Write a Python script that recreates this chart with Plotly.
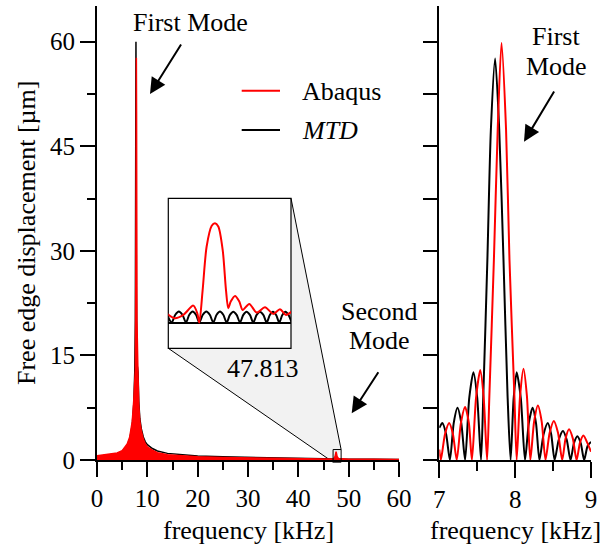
import plotly.graph_objects as go

# ---------------- data ----------------
# Full spectrum (0-60 kHz): upper envelope of the free-edge displacement
full_freq = [0, 2, 4, 5, 6, 6.5, 7.0, 7.3, 7.5, 7.62, 7.70, 7.74, 7.78, 7.82, 7.86,
             7.94, 8.05, 8.15, 8.3, 8.5, 8.8, 9.2, 9.6, 10, 11, 12, 14, 17, 20, 25,
             30, 35, 40, 45, 47.0, 47.3, 47.5, 47.7, 48.0, 50, 55, 60]
abaqus_full = [0.6, 0.75, 1.0, 1.35, 2.3, 3.3, 5.5, 8.5, 12.9, 13.0, 25, 35, 50, 57.7, 50,
               20, 13.1, 12.0, 8.0, 5.6, 4.2, 3.0, 2.3, 1.9, 1.4, 1.05, 0.75, 0.55, 0.45, 0.35,
               0.28, 0.22, 0.18, 0.15, 0.15, 0.5, 1.2, 0.5, 0.2, 0.12, 0.1, 0.08]
mtd_full = [0.5, 0.7, 0.9, 1.2, 2.1, 3.0, 5.0, 8.0, 12.6, 20, 45, 60, 45, 25, 14,
            13.3, 13.3, 12.6, 8.4, 6.0, 4.5, 3.3, 2.6, 2.2, 1.65, 1.3, 0.95, 0.72, 0.58, 0.45,
            0.36, 0.28, 0.22, 0.18, 0.16, 0.15, 0.15, 0.15, 0.14, 0.12, 0.1, 0.08]

# First mode detail (7-9 kHz)
abaqus_f = [7.00, 7.02, 7.075, 7.13, 7.18, 7.23, 7.285, 7.34, 7.39, 7.43, 7.485, 7.54, 7.585,
            7.63, 7.66, 7.72, 7.77, 7.82, 7.88, 7.925, 7.99, 8.02, 8.065, 8.11, 8.155, 8.20,
            8.25, 8.30, 8.35, 8.40, 8.455, 8.51, 8.565, 8.62, 8.665, 8.71, 8.76, 8.81, 8.855,
            8.90, 8.95, 9.0]
abaqus_u = [1.5, 0, 3.7, 5.3, 3.7, 0, 5.3, 7.6, 5.3, 0, 9.0, 12.9, 9.0,
            0, 9.2, 28.8, 47.4, 59.8, 47.4, 28.8, 9.2, 0, 9.2, 13.1, 9.2, 0,
            5.5, 7.8, 5.5, 0, 3.9, 5.6, 3.9, 0, 3.1, 4.4, 3.1, 0, 2.5,
            3.5, 2.5, 1.2]
mtd_f = [7.00, 7.04, 7.09, 7.14, 7.19, 7.24, 7.29, 7.34, 7.395, 7.45, 7.50, 7.55, 7.58,
         7.634, 7.68, 7.736, 7.79, 7.846, 7.90, 7.94, 7.98, 8.02, 8.075, 8.13, 8.18, 8.23,
         8.275, 8.32, 8.375, 8.43, 8.475, 8.52, 8.575, 8.63, 8.68, 8.73, 8.775, 8.82, 8.865,
         8.91, 8.955, 9.0]
mtd_u = [4.6, 5.3, 3.7, 0, 5.3, 7.5, 5.3, 0, 8.9, 12.6, 8.9, 0, 9.2,
         28.8, 47.4, 57.6, 47.4, 28.8, 9.2, 0, 8.8, 12.6, 8.8, 0, 5.3, 7.5,
         5.3, 0, 3.7, 5.3, 3.7, 0, 2.9, 4.15, 2.9, 0, 2.4, 3.4, 2.4,
         0, 2.0, 2.6]

# Second mode close-up (around 47.8 kHz)
ins_abaqus_f = [46.887, 46.987, 47.096, 47.226, 47.278, 47.304, 47.348, 47.40, 47.466, 47.509,
                47.552, 47.609, 47.652, 47.682, 47.714, 47.77, 47.826, 47.87, 47.956, 48.053,
                48.161, 48.269, 48.356, 48.435, 48.509]
ins_abaqus_u = [0.105, 0.053, 0.093, 0.205, 0.113, 0.0, 0.395, 0.918, 1.168, 1.20,
                1.16, 0.878, 0.395, 0.174, 0.254, 0.322, 0.254, 0.153, 0.226, 0.121,
                0.186, 0.105, 0.162, 0.093, 0.133]
ins_mtd_f = [46.887, 46.944, 46.991, 47.038, 47.084, 47.131, 47.174, 47.218, 47.261, 47.304,
             47.35, 47.396, 47.441, 47.487, 47.53, 47.574, 47.617, 47.661, 47.704, 47.748,
             47.791, 47.835, 47.878, 47.92, 47.964, 48.008, 48.052, 48.095, 48.139, 48.183,
             48.224, 48.265, 48.306, 48.347, 48.387, 48.428, 48.468, 48.509]
ins_mtd_u = [0.09, 0, 0.095, 0.133, 0.095, 0, 0.095, 0.133, 0.095, 0,
             0.095, 0.134, 0.095, 0, 0.095, 0.133, 0.095, 0, 0.094, 0.132,
             0.094, 0, 0.094, 0.132, 0.094, 0, 0.093, 0.131, 0.093, 0,
             0.092, 0.130, 0.092, 0, 0.092, 0.130, 0.092, 0]

x_ticks_full = [0, 10, 20, 30, 40, 50, 60]
x_minor_full = [5, 15, 25, 35, 45, 55]
x_ticks_detail = [7, 8, 9]
x_minor_detail = [7.5, 8.5]
y_ticks = [0, 15, 30, 45, 60]
y_minor = [7.5, 22.5, 37.5, 52.5]
y_ticks_detail = [0, 7.5, 15, 22.5, 30, 37.5, 45, 52.5, 60]

zoom_freq = [46.9, 48.5]
zoom_disp = [-0.31, 1.50]
zoom_label = "47.813"

# ---------------- geometry ----------------
W, H = 611, 553
ML, MR, MT, MB = 97, 20, 6, 93
PW, PH = W - ML - MR, H - MT - MB
Y_MAX = 65.12
FONT = "Liberation Serif"
RED, BLACK = "#ff0000", "#000000"


def px(xp):
    return (xp - ML) / PW


def py(yp):
    return (H - MB - yp) / PH


dom_full = [0, px(399)]
dom_detail = [px(439.3), 1]
ins_x = [px(168.3), px(291)]
ins_y = [py(348.3), py(198.3)]


def full_to_paper(f, v):
    return (dom_full[0] + f / 60 * (dom_full[1] - dom_full[0]), v / Y_MAX)


fig = go.Figure()

# full spectrum
fig.add_trace(go.Scatter(x=full_freq, y=mtd_full, mode="lines",
                         line=dict(color=BLACK, width=1.5), xaxis="x", yaxis="y"))
fig.add_trace(go.Scatter(x=full_freq, y=abaqus_full, mode="lines", fill="tozeroy",
                         fillcolor=RED, line=dict(color=RED, width=1.5), xaxis="x", yaxis="y"))
# first mode detail
fig.add_trace(go.Scatter(x=mtd_f, y=mtd_u, mode="lines",
                         line=dict(color=BLACK, width=2, shape="spline", smoothing=0.7),
                         xaxis="x2", yaxis="y2"))
fig.add_trace(go.Scatter(x=abaqus_f, y=abaqus_u, mode="lines",
                         line=dict(color=RED, width=2, shape="spline", smoothing=0.7),
                         xaxis="x2", yaxis="y2"))
# second mode close-up
fig.add_trace(go.Scatter(x=ins_mtd_f, y=ins_mtd_u, mode="lines",
                         line=dict(color=BLACK, width=2, shape="spline", smoothing=0.7),
                         xaxis="x3", yaxis="y3"))
fig.add_trace(go.Scatter(x=ins_abaqus_f, y=ins_abaqus_u, mode="lines",
                         line=dict(color=RED, width=2, shape="spline", smoothing=0.8),
                         xaxis="x3", yaxis="y3"))

tickfont = dict(family=FONT, size=25, color=BLACK)
common = dict(showline=True, linewidth=2, linecolor=BLACK, ticks="outside",
              tickwidth=2, tickcolor=BLACK, showgrid=False, zeroline=False,
              tickfont=tickfont)

fig.update_layout(
    width=W, height=H,
    margin=dict(l=ML, r=MR, t=MT, b=MB, pad=0),
    paper_bgcolor="white", plot_bgcolor="rgba(0,0,0,0)",
    showlegend=False,
    font=dict(family=FONT, size=26, color=BLACK),
    xaxis=dict(domain=dom_full, range=[0, 60], anchor="y", tickvals=x_ticks_full,
               ticklen=15,
               minor=dict(tickvals=x_minor_full, ticks="outside", ticklen=8,
                          tickwidth=2, tickcolor=BLACK), **common),
    yaxis=dict(domain=[0, 1], range=[0, Y_MAX], anchor="x", tickvals=y_ticks,
               ticklen=15,
               minor=dict(tickvals=y_minor, ticks="outside", ticklen=8,
                          tickwidth=2, tickcolor=BLACK), **common),
    xaxis2=dict(domain=dom_detail, range=[7, 9], anchor="y2", tickvals=x_ticks_detail,
                ticklen=16,
                minor=dict(tickvals=x_minor_detail, ticks="outside", ticklen=9,
                           tickwidth=2, tickcolor=BLACK), **common),
    yaxis2=dict(domain=[0, 1], range=[0, Y_MAX], anchor="x2", tickvals=y_ticks_detail,
                ticklen=14, showticklabels=False, **common),
    xaxis3=dict(domain=ins_x, range=zoom_freq, anchor="y3", showline=False,
                showticklabels=False, ticks="", showgrid=False, zeroline=False),
    yaxis3=dict(domain=ins_y, range=zoom_disp, anchor="x3", showline=False,
                showticklabels=False, ticks="", showgrid=False, zeroline=True,
                zerolinecolor=BLACK, zerolinewidth=2),
)

# zoom connector and close-up frame
sb_bl = full_to_paper(zoom_freq[0], zoom_disp[0])
sb_tr = full_to_paper(zoom_freq[1], zoom_disp[1])
ib_bl = (ins_x[0], ins_y[0])
ib_tr = (ins_x[1], ins_y[1])
shapes = [
    dict(type="path", xref="paper", yref="paper", layer="below",
         path=f"M {ib_bl[0]} {ib_bl[1]} L {ib_tr[0]} {ib_tr[1]} L {sb_tr[0]} {sb_tr[1]} "
              f"L {sb_bl[0]} {sb_bl[1]} Z",
         fillcolor="#f2f2f2", line=dict(width=0)),
    dict(type="rect", xref="paper", yref="paper", layer="below",
         x0=ins_x[0], x1=ins_x[1], y0=ins_y[0], y1=ins_y[1],
         fillcolor="white", line=dict(color=BLACK, width=1.2)),
    dict(type="line", xref="paper", yref="paper", layer="below",
         x0=ib_bl[0], y0=ib_bl[1], x1=sb_bl[0], y1=sb_bl[1], line=dict(color=BLACK, width=1)),
    dict(type="line", xref="paper", yref="paper", layer="below",
         x0=ib_tr[0], y0=ib_tr[1], x1=sb_tr[0], y1=sb_tr[1], line=dict(color=BLACK, width=1)),
    dict(type="rect", xref="paper", yref="paper", layer="above",
         x0=sb_bl[0], x1=sb_tr[0], y0=sb_bl[1], y1=sb_tr[1],
         line=dict(color=BLACK, width=1)),
    # legend samples
    dict(type="line", xref="paper", yref="paper", x0=px(241.7), x1=px(280),
         y0=py(90.7), y1=py(90.7), line=dict(color=RED, width=2)),
    dict(type="line", xref="paper", yref="paper", x0=px(241.7), x1=px(280),
         y0=py(130), y1=py(130), line=dict(color=BLACK, width=2)),
]
fig.update_layout(shapes=shapes)


def text(s, x, y, xanchor="center", size=26):
    fig.add_annotation(text=s, x=px(x), y=py(y), xref="paper", yref="paper",
                       xanchor=xanchor, yanchor="middle", showarrow=False,
                       font=dict(family=FONT, size=size, color=BLACK))


def arrow(x0, y0, x1, y1):
    fig.add_annotation(x=px(x1), y=py(y1), xref="paper", yref="paper",
                       ax=x0 - x1, ay=y0 - y1, axref="pixel", ayref="pixel",
                       showarrow=True, arrowhead=2, arrowsize=1.6, arrowwidth=2,
                       arrowcolor=BLACK, standoff=0, text="")


text("Abaqus", 300, 91, xanchor="left")
text("<i>MTD</i>", 300, 130, xanchor="left")
text("First Mode", 190.5, 22)
arrow(182, 43, 150, 94)
text("First", 556, 37)
text("Mode", 556, 66)
arrow(555, 90, 524, 141.7)
text("Second", 379, 311)
text("Mode", 379, 340)
arrow(379.3, 370.7, 351.7, 413.3)
text(zoom_label, 262.5, 368)
text("frequency [kHz]", 248, 530)
text("frequency [kHz]", 515, 530)
fig.add_annotation(text="Free edge displacement [µm]", x=px(26), y=py(233),
                   xref="paper", yref="paper", textangle=-90, showarrow=False,
                   xanchor="center", yanchor="middle",
                   font=dict(family=FONT, size=26, color=BLACK))

fig.write_html("out.html")
